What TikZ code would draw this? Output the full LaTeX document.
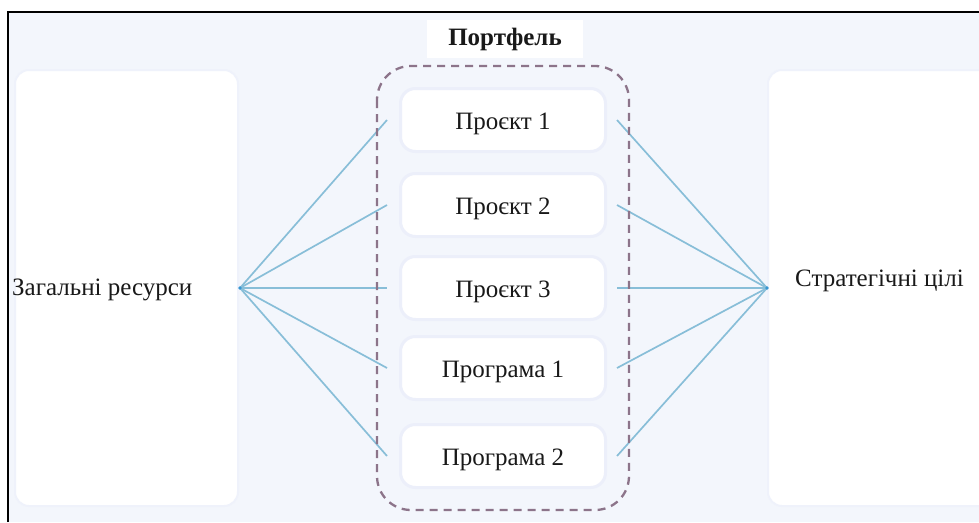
\documentclass[tikz,border=0pt]{standalone}
\usepackage{fontspec}
\setmainfont{Liberation Serif}
\usetikzlibrary{calc}
\definecolor{canvas}{RGB}{243,246,252}
\definecolor{halo}{RGB}{236,239,250}
\definecolor{haloout}{RGB}{239,242,251}
\definecolor{link}{RGB}{136,190,216}
\definecolor{hubdot}{RGB}{55,150,210}
\definecolor{dashcol}{RGB}{140,116,138}
\definecolor{ink}{RGB}{25,25,25}
\begin{document}
\begin{tikzpicture}[x=1pt,y=-1pt,
  panel/.style={fill=white,draw=haloout,line width=2pt,rounded corners=14pt},
  itembox/.style={fill=white,draw=halo,line width=3pt,rounded corners=15pt,
    minimum width=205pt,minimum height=63pt,inner sep=0pt,
    text height=21pt,text depth=2pt,
    text=ink,font=\fontsize{25}{28}\selectfont},
  plainlabel/.style={inner sep=0pt,text=ink,font=\fontsize{25}{28}\selectfont},
  link/.style={draw=link,line width=1.7pt},
  container/.style={draw=dashcol,line width=2.3pt,dash pattern=on 8pt off 6pt,rounded corners=34pt}]
\useasboundingbox (0,0) rectangle (979,522);
% page and canvas
\fill[white] (0,0) rectangle (979,522);
\fill[canvas] (8,12) rectangle (979,522);
% side panels
\begin{scope}
  \clip (0,0) rectangle (979,522);
  \path[panel] (15,70) rectangle (238,506);
  \path[panel] (768,70) rectangle (995,506);
\end{scope}
% frame
\draw[line width=2pt] (8,522) -- (8,12) -- (979,12);
% portfolio title
\node[fill=white,minimum width=156pt,minimum height=38pt,inner sep=0pt,
  text=ink,font=\bfseries\fontsize{25}{28}\selectfont] (portf) at (505,39) {Портфель};
% items
\node[itembox] (p1) at (503,120) {Проєкт 1};
\node[itembox] (p2) at (503,205) {Проєкт 2};
\node[itembox] (p3) at (503,288) {Проєкт 3};
\node[itembox] (g1) at (503,368) {Програма 1};
\node[itembox] (g2) at (503,456) {Програма 2};
% hubs and labels
\coordinate (hubL) at (240,288);
\coordinate (hubR) at (767,288);
\node[plainlabel,anchor=west] (res) at (12,290) {Загальні ресурси};
\node[plainlabel,anchor=west] (goal) at (795,281) {Стратегічні цілі};
% connectors
\foreach \n in {p1,p2,p3,g1,g2}{
  \draw[link] (hubL) -- ([xshift=-12pt]\n.west);
  \draw[link] (hubR) -- ([xshift=10pt]\n.east);
}
\fill[hubdot] (hubL) circle (1.8pt);
\fill[hubdot] (hubR) circle (1.8pt);
% portfolio boundary
\draw[container] (377,66) rectangle (629,510);
\end{tikzpicture}
\end{document}
